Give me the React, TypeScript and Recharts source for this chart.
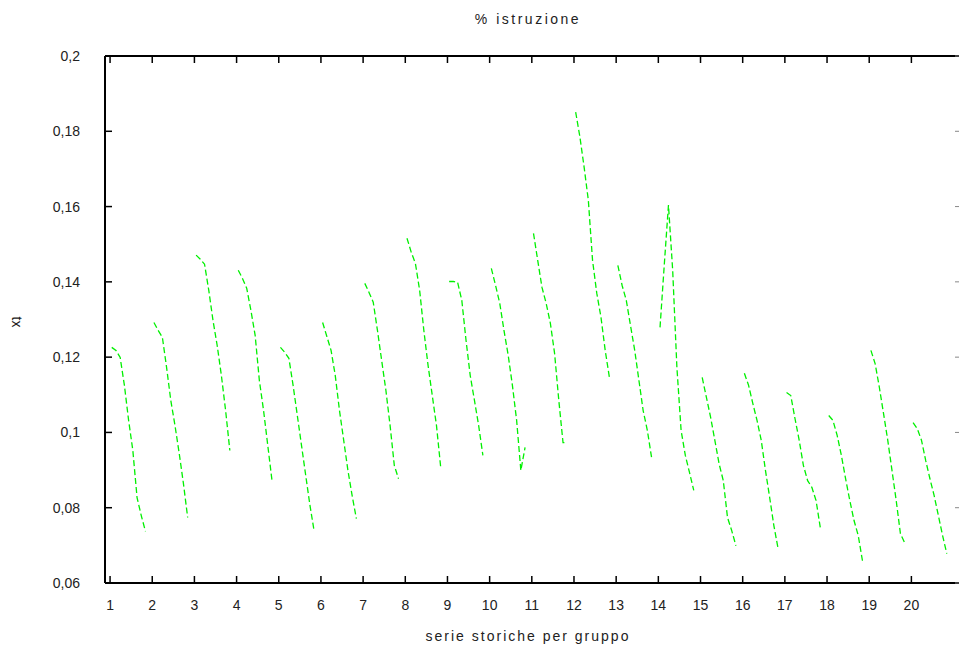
import { LineChart, Line, XAxis, YAxis, ReferenceLine } from 'recharts';

// one short time series per group
const s1 = [0.1226, 0.1218, 0.1199, 0.1125, 0.1032, 0.0952, 0.0827, 0.0779, 0.0737];
const s2 = [0.1292, 0.1271, 0.1253, 0.1173, 0.1085, 0.1018, 0.0944, 0.0864, 0.0774];
const s3 = [0.1471, 0.146, 0.1447, 0.1378, 0.1298, 0.1231, 0.1151, 0.1058, 0.0952];
const s4 = [0.1431, 0.1409, 0.1383, 0.1324, 0.1258, 0.1138, 0.1058, 0.0965, 0.0872];
const s5 = [0.1226, 0.1213, 0.1197, 0.1125, 0.1045, 0.0965, 0.0885, 0.0806, 0.0737];
const s6 = [0.1292, 0.1255, 0.1218, 0.1151, 0.1058, 0.0979, 0.0899, 0.0832, 0.0771];
const s7 = [0.1396, 0.1372, 0.1346, 0.1271, 0.1191, 0.1112, 0.1018, 0.0912, 0.0877];
const s8 = [0.1516, 0.1479, 0.1449, 0.1378, 0.1271, 0.1178, 0.1098, 0.1018, 0.0907];
const s9 = [0.1401, 0.1401, 0.1399, 0.1351, 0.1245, 0.1151, 0.1085, 0.1018, 0.0939];
const s10 = [0.1436, 0.1391, 0.1343, 0.1271, 0.1205, 0.1125, 0.1032, 0.0899, 0.096];
const s11 = [0.1529, 0.1457, 0.1386, 0.1343, 0.129, 0.121, 0.1085, 0.0973, 0.0973];
const s12 = [0.1851, 0.1785, 0.1705, 0.1617, 0.1457, 0.137, 0.1306, 0.1218, 0.1146];
const s13 = [0.1444, 0.1391, 0.1351, 0.1284, 0.1218, 0.1138, 0.1058, 0.1005, 0.0933];
const s14 = [0.1279, 0.1444, 0.1604, 0.1431, 0.1173, 0.1005, 0.0939, 0.0893, 0.0846];
const s15 = [0.1146, 0.1093, 0.104, 0.0979, 0.0917, 0.0872, 0.0774, 0.0739, 0.0699];
const s16 = [0.1157, 0.1125, 0.1077, 0.1032, 0.0979, 0.0899, 0.0827, 0.0752, 0.0691];
const s17 = [0.1106, 0.1098, 0.1037, 0.0979, 0.0912, 0.0872, 0.0854, 0.0819, 0.0747];
const s18 = [0.1045, 0.1032, 0.0992, 0.0939, 0.0877, 0.0819, 0.0766, 0.0726, 0.0659];
const s19 = [0.1218, 0.1183, 0.112, 0.105, 0.0979, 0.0899, 0.0819, 0.0731, 0.0707];
const s20 = [0.1026, 0.101, 0.0979, 0.0925, 0.0877, 0.0832, 0.0779, 0.0726, 0.0678];

const groups = [s1, s2, s3, s4, s5, s6, s7, s8, s9, s10, s11, s12, s13, s14, s15, s16, s17, s18, s19, s20];
const groupTicks = [1, 2, 3, 4, 5, 6, 7, 8, 9, 10, 11, 12, 13, 14, 15, 16, 17, 18, 19, 20];
const yTicks = [0.06, 0.08, 0.1, 0.12, 0.14, 0.16, 0.18, 0.2];

const title = '% istruzione';
const xTitle = 'serie storiche per gruppo';
const yTitle = 'tx';

const FONT = '"Liberation Sans", Arial, sans-serif';
const GREEN = '#00f000';
const X_DOMAIN = [0.88, 21.2];
const Y_DOMAIN = [0.06, 0.2];

// each group sits just right of its tick, points spaced evenly
const seriesData = groups.map((vals, gi) =>
  vals.map((v, k) => ({ x: groupTicks[gi] + 0.04 + k * 0.1, y: v }))
);

const fmtY = (v: number) => String(Number(v.toFixed(2))).replace('.', ',');

const LeftTick = ({ x, y, payload }: any) => (
  <g>
    <line x1={x} x2={x + 7} y1={y} y2={y} stroke="#000" strokeWidth={1.5} />
    <text x={x - 25} y={y} dy={5} textAnchor="end" fontFamily={FONT} fontSize={14} fill="#222">
      {fmtY(payload.value)}
    </text>
  </g>
);

const RightTick = ({ x, y }: any) => (
  <line x1={x} x2={x - 7} y1={y} y2={y} stroke="#888" strokeWidth={1} />
);

const BottomTick = ({ x, y, payload }: any) => (
  <g>
    <line x1={x} x2={x} y1={y} y2={y - 7} stroke="#000" strokeWidth={1.5} />
    <text x={x} y={y + 27} textAnchor="middle" fontFamily={FONT} fontSize={14} fill="#222">
      {payload.value}
    </text>
  </g>
);

const TopTick = ({ x, y }: any) => (
  <line x1={x} x2={x} y1={y} y2={y + 7} stroke="#000" strokeWidth={1.5} />
);

export default function App() {
  return (
    <div
      style={{
        position: 'fixed',
        left: 0,
        top: 0,
        width: 959,
        height: 648,
        overflow: 'hidden',
        background: '#fff',
      }}
    >
      <div
        style={{
          position: 'absolute',
          top: 11,
          left: 0,
          width: 1056,
          textAlign: 'center',
          fontFamily: FONT,
          fontSize: 14,
          letterSpacing: 2.5,
          color: '#222',
        }}
      >
        {title}
      </div>
      <div
        style={{
          position: 'absolute',
          top: 628,
          left: 0,
          width: 1056,
          textAlign: 'center',
          fontFamily: FONT,
          fontSize: 14,
          letterSpacing: 2,
          color: '#222',
        }}
      >
        {xTitle}
      </div>
      <div
        style={{
          position: 'absolute',
          top: 314,
          left: 12,
          fontFamily: FONT,
          fontSize: 14,
          color: '#222',
          transform: 'rotate(90deg)',
        }}
      >
        {yTitle}
      </div>
      <LineChart width={970} height={648} margin={{ top: 55, right: 7, left: 45, bottom: 35 }}>
        <XAxis
          type="number"
          dataKey="x"
          domain={X_DOMAIN}
          ticks={groupTicks}
          allowDataOverflow
          height={30}
          tickSize={0}
          tickMargin={0}
          tickLine={false}
          axisLine={{ stroke: '#000', strokeWidth: 2 }}
          tick={<BottomTick />}
          interval={0}
        />
        <XAxis
          xAxisId="top"
          orientation="top"
          type="number"
          dataKey="x"
          domain={X_DOMAIN}
          ticks={groupTicks}
          allowDataOverflow
          height={1}
          tickSize={0}
          tickMargin={0}
          tickLine={false}
          axisLine={{ stroke: '#000', strokeWidth: 2 }}
          tick={<TopTick />}
          interval={0}
        />
        <YAxis
          type="number"
          domain={Y_DOMAIN}
          ticks={yTicks}
          allowDataOverflow
          width={60}
          tickSize={0}
          tickMargin={0}
          tickLine={false}
          axisLine={{ stroke: '#000', strokeWidth: 2 }}
          tick={<LeftTick />}
          interval={0}
        />
        <YAxis
          yAxisId="right"
          orientation="right"
          type="number"
          domain={Y_DOMAIN}
          ticks={yTicks}
          allowDataOverflow
          width={1}
          tickSize={0}
          tickMargin={0}
          tickLine={false}
          axisLine={{ stroke: '#000', strokeWidth: 2 }}
          tick={<RightTick />}
          interval={0}
        />
        <ReferenceLine y={0.2} stroke="#000" strokeWidth={2} ifOverflow="visible" />
        {/* invisible copy bound to the mirror axes so the frame gets drawn */}
        <Line
          data={seriesData[0]}
          dataKey="y"
          xAxisId="top"
          yAxisId="right"
          stroke="none"
          dot={false}
          activeDot={false}
          legendType="none"
          isAnimationActive={false}
        />
        {seriesData.map((d, i) => (
          <Line
            key={i}
            data={d}
            dataKey="y"
            type="linear"
            stroke={GREEN}
            strokeWidth={1.3}
            strokeDasharray="6 3"
            dot={false}
            isAnimationActive={false}
          />
        ))}
      </LineChart>
    </div>
  );
}
